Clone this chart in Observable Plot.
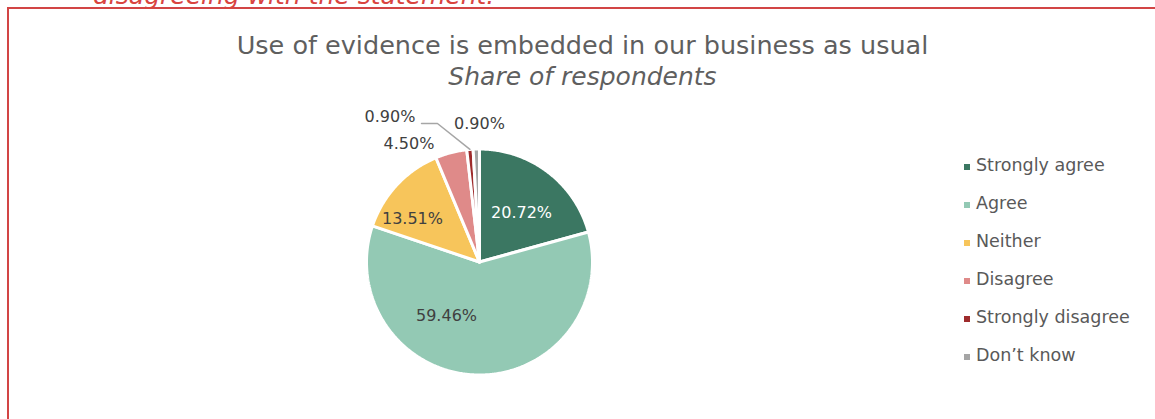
<!DOCTYPE html>
<html>
<head>
<meta charset="utf-8">
<script src="https://cdn.jsdelivr.net/npm/d3@7"></script>
<script src="https://cdn.jsdelivr.net/npm/@observablehq/plot@0.6"></script>
<style>
  html, body { margin: 0; padding: 0; background: #fff; }
  #page { position: relative; width: 1155px; height: 419px; overflow: hidden; font-family: "DejaVu Sans", sans-serif; color: #595959; }
  #frame { position: absolute; left: 7px; top: 7px; width: 1300px; height: 600px; border-left: 2px solid #D24545; border-top: 2px solid #D24545; }
  #note { position: absolute; left: 93px; top: -19px; font-size: 25px; font-style: italic; color: #D9443F; white-space: nowrap; }
  #title { position: absolute; left: 0; width: 1165px; top: 30px; text-align: center; font-size: 25.5px; white-space: nowrap; color: #5f5f5f; }
  #subtitle { position: absolute; left: 0; width: 1165px; top: 62px; text-align: center; font-size: 25px; font-style: italic; white-space: nowrap; color: #5f5f5f; }
  #chart { position: absolute; left: 0; top: 0; }
  #legend { position: absolute; left: 964px; top: 155px; font-size: 17.5px; }
  .item { height: 38px; display: flex; align-items: flex-start; white-space: nowrap; }
  .sw { width: 6px; height: 6px; margin-right: 6px; margin-top: 9px; flex: none; }
</style>
</head>
<body>
<div id="page">
  <div id="frame"></div>
  <div id="note">disagreeing with the statement.</div>
  <div id="title">Use of evidence is embedded in our business as usual</div>
  <div id="subtitle">Share of respondents</div>
  <div id="chart"></div>
  <div id="legend"></div>
</div>
<script>
// ---- data ----
const categories = ["Strongly agree", "Agree", "Neither", "Disagree", "Strongly disagree", "Don’t know"];
const shares = [20.72, 59.46, 13.51, 4.50, 0.90, 0.90];
const labels = ["20.72%", "59.46%", "13.51%", "4.50%", "0.90%", "0.90%"];
const colors = ["#3B7762", "#93C9B4", "#F7C55B", "#DF8A89", "#9E2B2C", "#A5A5A5"];

// ---- layout (label anchor points in unit-circle coordinates) ----
const labelX = [0.372, -0.292, -0.593, -0.624, -0.792, 0.0];
const labelY = [0.438, -0.473, 0.385, 1.049, 1.28, 1.226];
const labelFill = ["#ffffff", "#404040", "#404040", "#404040", "#404040", "#404040"];

// ---- build slice polygons ----
const total = d3.sum(shares);
const pts = [];
let acc = 0;
categories.forEach((c, i) => {
  const a0 = acc / total * 2 * Math.PI;
  acc += shares[i];
  const a1 = acc / total * 2 * Math.PI;
  pts.push({cat: c, x: 0, y: 0});
  const n = Math.max(2, Math.ceil((a1 - a0) / 0.01));
  for (let k = 0; k <= n; k++) {
    const a = a0 + (a1 - a0) * k / n;
    pts.push({cat: c, x: Math.sin(a), y: Math.cos(a)});
  }
  pts.push({cat: c, x: 0, y: 0});
});

const labelData = categories.map((c, i) => ({cat: c, text: labels[i], x: labelX[i], y: labelY[i], fill: labelFill[i]}));

// leader line for "Strongly disagree"
const sdStart = d3.sum(shares.slice(0, 4)) / total;
const sdMid = (sdStart + shares[4] / total / 2) * 2 * Math.PI;
const leader = [
  {x: -0.513, y: 1.226},
  {x: -0.372, y: 1.226},
  {x: Math.sin(sdMid) * 1.0, y: Math.cos(sdMid) * 1.0}
];

const cx = 479, cy = 261.5, r = 113;
const plot = Plot.plot({
  width: 1155,
  height: 419,
  margin: 0,
  style: {background: "transparent", fontFamily: "DejaVu Sans, sans-serif"},
  x: {domain: [-1, 1], range: [cx - r, cx + r], axis: null},
  y: {domain: [-1, 1], range: [cy + r, cy - r], axis: null},
  color: {domain: categories, range: colors},
  marks: [
    Plot.line(pts, {x: "x", y: "y", z: "cat", fill: "cat", stroke: "white", strokeWidth: 3, strokeLinejoin: "miter", curve: "linear"}),
    Plot.line(leader, {x: "x", y: "y", stroke: "#A6A6A6", strokeWidth: 1.5}),
    Plot.text(labelData, {x: "x", y: "y", text: "text", fill: d => d.fill, fontSize: 16})
  ]
});
document.getElementById("chart").appendChild(plot);

const legend = document.getElementById("legend");
categories.forEach((c, i) => {
  const item = document.createElement("div");
  item.className = "item";
  const sw = document.createElement("div");
  sw.className = "sw";
  sw.style.background = colors[i];
  const t = document.createElement("span");
  t.textContent = c;
  item.appendChild(sw);
  item.appendChild(t);
  legend.appendChild(item);
});
</script>
</body>
</html>
